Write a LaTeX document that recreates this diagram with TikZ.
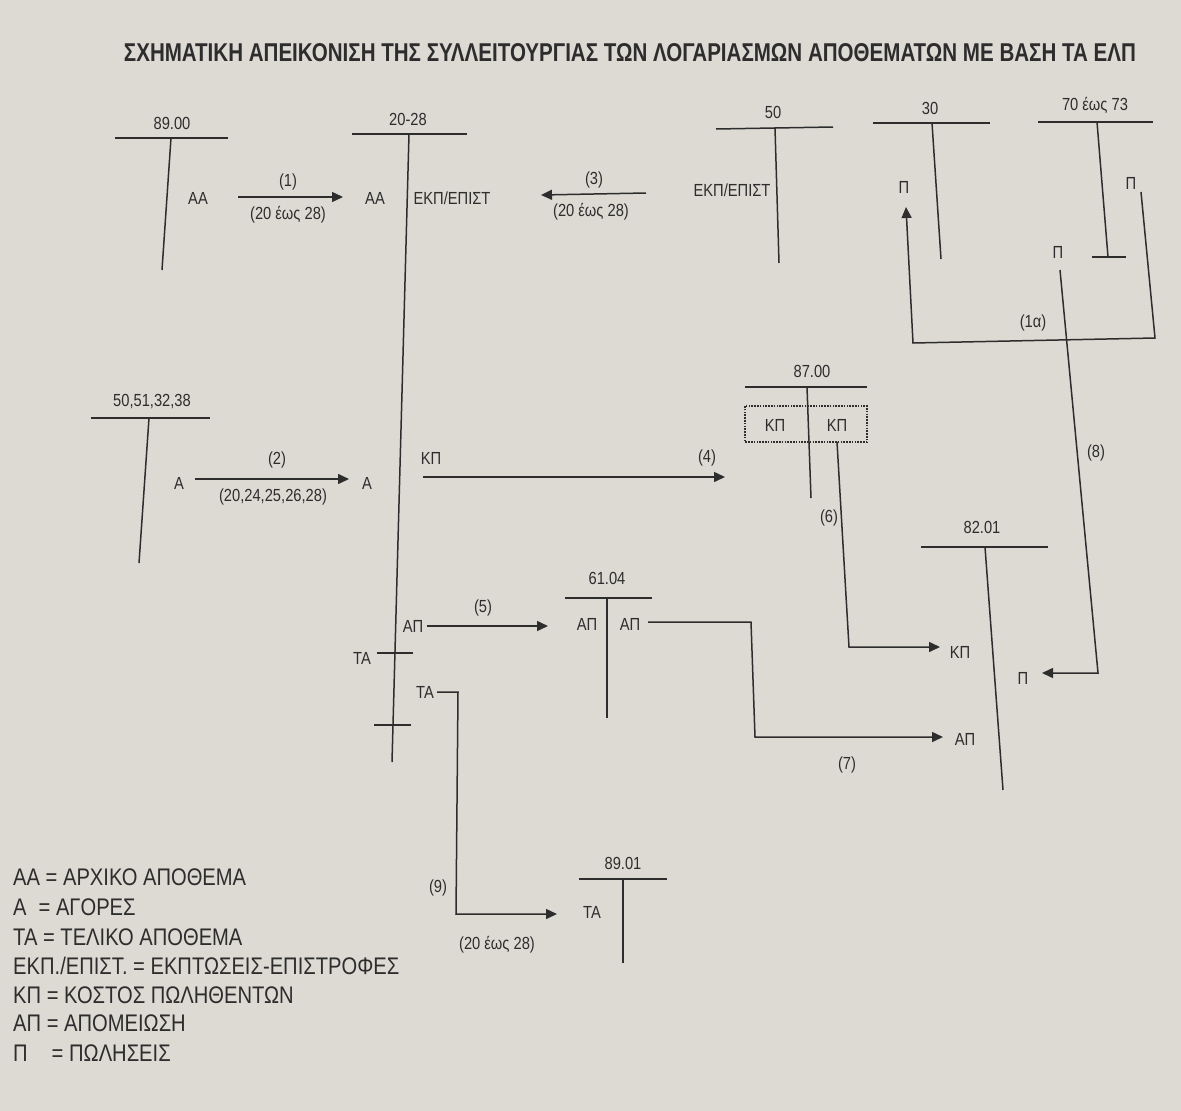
\documentclass[tikz,border=0pt]{standalone}
\usepackage{fontspec}
\setmainfont{Liberation Sans}[FakeStretch=0.84]
\usetikzlibrary{arrows.meta}
\definecolor{paper}{RGB}{221,218,212}
\definecolor{ink}{RGB}{45,45,45}
\begin{document}
\begin{tikzpicture}[x=1pt,y=-1pt,
  ln/.style={draw=ink,line width=1.5pt},
  arr/.style={draw=ink,line width=1.5pt,-{Triangle[length=11pt,width=10pt]}},
  lbl/.style={inner sep=0pt,text=ink,font=\fontsize{17.5}{19}\selectfont},
  leg/.style={inner sep=0pt,text=ink,anchor=west,font=\fontsize{24}{28}\selectfont},
  dotbox/.style={draw=ink,line width=1.2pt,dash pattern=on 1.6pt off 1.2pt}]
\fill[paper] (0,0) rectangle (1181,1111);
\useasboundingbox (0,0) rectangle (1181,1111);

% title
\node[inner sep=0pt,text=ink] (title) at (630,53)
  {\resizebox{1012pt}{18pt}{\bfseries ΣΧΗΜΑΤΙΚΗ ΑΠΕΙΚΟΝΙΣΗ ΤΗΣ ΣΥΛΛΕΙΤΟΥΡΓΙΑΣ ΤΩΝ ΛΟΓΑΡΙΑΣΜΩΝ ΑΠΟΘΕΜΑΤΩΝ ΜΕ ΒΑΣΗ ΤΑ ΕΛΠ}};

% ---- account 89.00
\node[lbl] (t8900) at (172,123) {89.00};
\draw[ln] (115,138) -- (228,138);
\draw[ln] (171,138) -- (162,270);
\node[lbl] (aaL) at (198,198) {ΑΑ};

% ---- account 20-28
\node[lbl] (t2028) at (408,119) {20-28};
\draw[ln] (352,134) -- (467,134);
\draw[ln] (409,134) -- (392,762);
\draw[ln] (377,653) -- (413,653);
\draw[ln] (374,725) -- (411,725);
\node[lbl] (aaR) at (375,198) {ΑΑ};
\node[lbl] (ekpA) at (452,198) {ΕΚΠ/ΕΠΙΣΤ};
\node[lbl] (aR) at (367,483) {Α};
\node[lbl] (kpA) at (431,458) {ΚΠ};
\node[lbl] (apA) at (413,626) {ΑΠ};
\node[lbl] (taL) at (362,658) {ΤΑ};
\node[lbl] (taR) at (425,692) {ΤΑ};

% ---- account 50
\node[lbl] (t50) at (773,112) {50};
\draw[ln] (716,129) -- (833,127);
\draw[ln] (775,128) -- (779,263);
\node[lbl] (ekpB) at (732,190) {ΕΚΠ/ΕΠΙΣΤ};

% ---- account 30
\node[lbl] (t30) at (930,108) {30};
\draw[ln] (873,123) -- (990,123);
\draw[ln] (932,123) -- (941,259);
\node[lbl] (p30) at (904,187) {Π};

% ---- account 70-73
\node[lbl] (t7073) at (1095,105) {70 έως 73};
\draw[ln] (1038,122) -- (1153,122);
\draw[ln] (1097,122) -- (1108,257);
\draw[ln] (1092,257) -- (1126,257);
\node[lbl] (p70R) at (1131,183) {Π};
\node[lbl] (p70L) at (1058,252) {Π};

% ---- account 87.00
\node[lbl] (t8700) at (812,371) {87.00};
\draw[ln] (745,387) -- (867,387);
\draw[ln] (807,387) -- (811,498);
\draw[dotbox] (745,406) rectangle (867,442);
\node[lbl] (kp87L) at (775,425) {ΚΠ};
\node[lbl] (kp87R) at (837,425) {ΚΠ};

% ---- account 82.01
\node[lbl] (t8201) at (982,527) {82.01};
\draw[ln] (921,547) -- (1048,547);
\draw[ln] (985,547) -- (1003,790);
\node[lbl] (kp82) at (960,652) {ΚΠ};
\node[lbl] (ap82) at (965,739) {ΑΠ};
\node[lbl] (p82) at (1023,678) {Π};

% ---- account 50,51,32,38
\node[lbl] (t5051) at (152,402) {50,51,32,38};
\draw[ln] (91,418) -- (210,418);
\draw[ln] (149,418) -- (139,563);
\node[lbl] (aL) at (179,483) {Α};

% ---- account 61.04
\node[lbl] (t6104) at (607,578) {61.04};
\draw[ln] (565,598) -- (652,598);
\draw[ln] (607,598) -- (607,718);
\node[lbl] (ap61L) at (587,624) {ΑΠ};
\node[lbl] (ap61R) at (630,624) {ΑΠ};

% ---- account 89.01
\node[lbl] (t8901) at (623,863) {89.01};
\draw[ln] (579,879) -- (667,879);
\draw[ln] (623,879) -- (623,963);
\node[lbl] (ta89) at (592,912) {ΤΑ};

% ---- connector end points
\coordinate (c1s) at (238,197);  \coordinate (c1e) at (343,197);
\coordinate (c2s) at (195,479);  \coordinate (c2e) at (349,479);
\coordinate (c3s) at (646,193);  \coordinate (c3e) at (541,195);
\coordinate (c4s) at (423,477);  \coordinate (c4e) at (725,477);
\coordinate (c5s) at (427,626);  \coordinate (c5e) at (548,626);
\coordinate (c6s) at (837,442);  \coordinate (c6b) at (849,647); \coordinate (c6e) at (940,647);
\coordinate (c7s) at (648,622);  \coordinate (c7a) at (751,622); \coordinate (c7b) at (755,737); \coordinate (c7e) at (943,737);
\coordinate (c8s) at (1060,270); \coordinate (c8b) at (1098,673); \coordinate (c8e) at (1042,673);
\coordinate (c9s) at (437,692);  \coordinate (c9a) at (458,692); \coordinate (c9b) at (456,914); \coordinate (c9e) at (557,914);
\coordinate (c1as) at (1141,192); \coordinate (c1aa) at (1155,338); \coordinate (c1ab) at (913,343); \coordinate (c1ae) at (906,207);

% ---- connectors
\draw[arr] (c1s) -- (c1e);
\node[lbl] (n1) at (288,182) {(1)};
\node[lbl] (n1b) at (288,215) {(20 έως 28)};

\draw[arr] (c2s) -- (c2e);
\node[lbl] (n2) at (277,460) {(2)};
\node[lbl] (n2b) at (273,497) {(20,24,25,26,28)};

\draw[arr] (c3s) -- (c3e);
\node[lbl] (n3) at (594,180) {(3)};
\node[lbl] (n3b) at (591,212) {(20 έως 28)};

\draw[arr] (c4s) -- (c4e);
\node[lbl] (n4) at (707,458) {(4)};

\draw[arr] (c5s) -- (c5e);
\node[lbl] (n5) at (483,608) {(5)};

\draw[arr] (c6s) -- (c6b) -- (c6e);
\node[lbl] (n6) at (829,518) {(6)};

\draw[arr] (c7s) -- (c7a) -- (c7b) -- (c7e);
\node[lbl] (n7) at (847,765) {(7)};

\draw[arr] (c8s) -- (c8b) -- (c8e);
\node[lbl] (n8) at (1096,453) {(8)};

\draw[arr] (c9s) -- (c9a) -- (c9b) -- (c9e);
\node[lbl] (n9) at (438,888) {(9)};
\node[lbl] (n9b) at (497,945) {(20 έως 28)};

\draw[arr] (c1as) -- (c1aa) -- (c1ab) -- (c1ae);
\node[lbl] (n1a) at (1033,323) {(1α)};

% ---- legend
\node[leg] (l1) at (13,877) {ΑΑ = ΑΡΧΙΚΟ ΑΠΟΘΕΜΑ};
\node[leg] (l2) at (13,907) {Α\hspace{0.5em}= ΑΓΟΡΕΣ};
\node[leg] (l3) at (13,937) {ΤΑ = ΤΕΛΙΚΟ ΑΠΟΘΕΜΑ};
\node[leg] (l4) at (13,966) {ΕΚΠ./ΕΠΙΣΤ. = ΕΚΠΤΩΣΕΙΣ-ΕΠΙΣΤΡΟΦΕΣ};
\node[leg] (l5) at (13,995) {ΚΠ = ΚΟΣΤΟΣ ΠΩΛΗΘΕΝΤΩΝ};
\node[leg] (l6) at (13,1023) {ΑΠ = ΑΠΟΜΕΙΩΣΗ};
\node[leg] (l7) at (13,1053) {Π\hspace{1em}= ΠΩΛΗΣΕΙΣ};
\end{tikzpicture}
\end{document}
